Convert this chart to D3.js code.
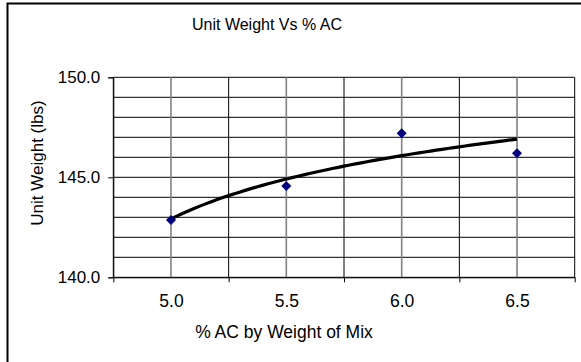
<!DOCTYPE html>
<html>
<head>
<meta charset="utf-8">
<script src="https://cdn.jsdelivr.net/npm/d3@7"></script>
<style>
  body { margin: 0; background: #fff; }
  svg text { font-family: "Liberation Sans", Arial, sans-serif; fill: #000; }
</style>
</head>
<body>
<svg id="drawing_region"></svg>
<script>
// chart values
const categories = ["5.0", "5.5", "6.0", "6.5"];
const unitWeight = [142.86, 144.56, 147.2, 146.2];
const yTicks = [140, 145, 150];
const yGrid = [140, 141, 142, 143, 144, 145, 146, 147, 148, 149, 150];

const config = {
    width: 581,
    height: 362,
    left: 113.3, right: 574.7, top: 77.3, bottom: 277.3
};

const svg = d3.select('#drawing_region')
    .attr('width', config.width)
    .attr('height', config.height);

// outer chart frame
svg.append('rect')
    .attr('x', 7.5).attr('y', 3.5)
    .attr('width', 590).attr('height', 370)
    .attr('fill', '#fff')
    .attr('stroke', '#000')
    .attr('stroke-width', 2);

// x positions: category index (1..n) on a linear scale
const xscale = d3.scaleLinear()
    .domain([0.5, categories.length + 0.5])
    .range([config.left, config.right]);

const yscale = d3.scaleLinear()
    .domain([140, 150])
    .range([config.bottom, config.top]);

const chart = svg.append('g');

// horizontal gridlines
chart.selectAll('.hgrid')
    .data(yGrid)
    .enter()
    .append('line')
    .attr('x1', config.left).attr('x2', config.right)
    .attr('y1', d => yscale(d)).attr('y2', d => yscale(d))
    .attr('stroke', '#000')
    .attr('stroke-width', 1);

// vertical gridlines at category centres (grey)
chart.selectAll('.vgrid-c')
    .data(categories)
    .enter()
    .append('line')
    .attr('x1', (d, i) => xscale(i + 1)).attr('x2', (d, i) => xscale(i + 1))
    .attr('y1', config.top).attr('y2', config.bottom)
    .attr('stroke', '#808080')
    .attr('stroke-width', 1.6);

// vertical gridlines at category boundaries (black)
const bounds = d3.range(0.5, categories.length + 1, 1);
chart.selectAll('.vgrid-b')
    .data(bounds)
    .enter()
    .append('line')
    .attr('x1', d => xscale(d)).attr('x2', d => xscale(d))
    .attr('y1', config.top).attr('y2', config.bottom)
    .attr('stroke', '#000')
    .attr('stroke-width', 1);

// y axis
const yaxis = d3.axisLeft(yscale)
    .tickValues(yTicks)
    .tickSize(5)
    .tickPadding(8)
    .tickFormat(d3.format('.1f'));

const yaxis_group = svg.append('g')
    .attr('transform', `translate(${config.left}, 0)`)
    .call(yaxis);
yaxis_group.select('.domain').attr('stroke', '#000');
yaxis_group.selectAll('text')
    .attr('font-size', 17)
    .attr('font-family', '"Liberation Sans", Arial, sans-serif');

// x axis: ticks on boundaries, labels at centres
const xaxis = d3.axisBottom(xscale)
    .tickValues(bounds)
    .tickSize(5)
    .tickSizeOuter(0)
    .tickFormat('');
svg.append('g')
    .attr('transform', `translate(0, ${config.bottom})`)
    .call(xaxis)
    .select('.domain').attr('stroke', '#000');

const xlabels = d3.axisBottom(xscale)
    .tickValues(d3.range(1, categories.length + 1))
    .tickSize(0)
    .tickPadding(17)
    .tickFormat(d => categories[d - 1]);
const xlabel_group = svg.append('g')
    .attr('transform', `translate(0, ${config.bottom})`)
    .call(xlabels);
xlabel_group.select('.domain').remove();
xlabel_group.selectAll('text')
    .attr('font-size', 17.5)
    .attr('font-family', '"Liberation Sans", Arial, sans-serif');

// logarithmic trendline fitted to the series (Excel style)
const lx = unitWeight.map((d, i) => Math.log(i + 1));
const mx = d3.mean(lx), my = d3.mean(unitWeight);
const b = d3.sum(lx, (v, i) => (v - mx) * (unitWeight[i] - my)) / d3.sum(lx, v => (v - mx) * (v - mx));
const a = my - b * mx;
const trend = d3.range(1, categories.length + 0.001, 0.05).map(x => [x, a + b * Math.log(x)]);

chart.append('path')
    .datum(trend)
    .attr('fill', 'none')
    .attr('stroke', '#000')
    .attr('stroke-width', 3.2)
    .attr('d', d3.line().x(d => xscale(d[0])).y(d => yscale(d[1])));

// markers
chart.selectAll('.pt')
    .data(unitWeight)
    .enter()
    .append('path')
    .attr('transform', (d, i) => `translate(${xscale(i + 1)}, ${yscale(d)})`)
    .attr('d', 'M0,-5L5,0L0,5L-5,0Z')
    .attr('fill', '#000080');

// titles
svg.append('text')
    .attr('x', 267).attr('y', 30)
    .attr('text-anchor', 'middle')
    .attr('font-size', 16)
    .text('Unit Weight Vs % AC');

svg.append('text')
    .attr('x', 284).attr('y', 338)
    .attr('text-anchor', 'middle')
    .attr('font-size', 17.5)
    .text('% AC by Weight of Mix');

svg.append('text')
    .attr('transform', 'translate(43, 163) rotate(-90)')
    .attr('text-anchor', 'middle')
    .attr('font-size', 17)
    .text('Unit Weight (lbs)');
</script>
</body>
</html>
